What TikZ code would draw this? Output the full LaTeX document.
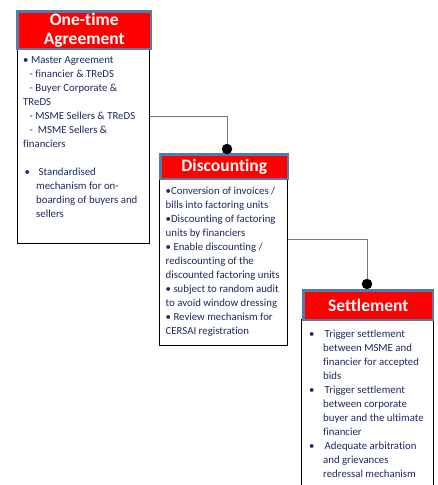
\documentclass[tikz,border=0pt]{standalone}
\usepackage{fontspec}
\setmainfont[Ligatures={NoCommon}]{Carlito}
\begin{document}
\begin{tikzpicture}[x=1pt,y=-1pt]
\definecolor{navy}{RGB}{30,40,100}
\definecolor{steel}{RGB}{84,124,170}
\definecolor{hdrred}{RGB}{255,0,0}
\definecolor{wire}{RGB}{120,120,120}
\tikzset{
  bodybox/.style={draw=black, line width=1.2pt, fill=white, anchor=north west,
                  inner sep=0pt, minimum width=#1},
  hdr/.style={draw=steel, line width=2.5pt, fill=hdrred, anchor=north west,
              inner sep=0pt, text=white, align=center,
              font=\fontsize{17.5}{19.5}\selectfont\bfseries},
  bodytext/.style={anchor=north west, inner sep=0pt, align=left, text=navy,
                   font=\fontsize{10.8}{14}\selectfont},
  conn/.style={draw=wire, line width=0.9pt},
  dot/.style={circle, fill=black, inner sep=0pt, minimum size=10.5pt}
}
\useasboundingbox (0,0) rectangle (438,485);

% body boxes
\node[bodybox=132pt, minimum height=195pt] (b1) at (17,48) {};
\node[bodybox=128pt, minimum height=167pt] (b2) at (159,178) {};
\node[bodybox=132pt, minimum height=190pt] (b3) at (301,319) {};

% headers
\node[hdr, minimum width=133.5pt, minimum height=37.5pt] (h1) at (16.25,10.25) {One-time\\Agreement};
\node[hdr, minimum width=127.5pt, minimum height=24.5pt] (h2) at (159.25,153.25) {Discounting};
\node[hdr, minimum width=129.5pt, minimum height=29.5pt] (h3) at (302.25,289.25) {Settlement};

% body texts
\node[bodytext] (t1) at (23,56.5) {%
• Master Agreement\\
\hspace*{6.5pt}- financier \& TReDS\\
\hspace*{6.5pt}- Buyer Corporate \&\\
TReDS\\
\hspace*{6.5pt}- MSME Sellers \& TReDS\\
\hspace*{6.5pt}-\hspace*{2.5pt} MSME Sellers \&\\
financiers\\[14pt]
\makebox[13pt][l]{\hspace*{1.5pt}•}\hspace*{2.5pt}Standardised\\
\hspace*{13pt}mechanism for on-\\
\hspace*{13pt}boarding of buyers and\\
\hspace*{13pt}sellers};

\node[bodytext] (t2) at (165.5,186.5) {%
•Conversion of invoices /\\
bills into factoring units\\
•Discounting of factoring\\
units by financiers\\
• Enable discounting /\\
rediscounting of the\\
discounted factoring units\\
• subject to random audit\\
to avoid window dressing\\
• Review mechanism for\\
CERSAI registration};

\node[bodytext] (t3) at (309,329.5) {%
\makebox[14pt][l]{•}\hspace*{1.5pt}Trigger settlement\\
\hspace*{14pt}between MSME and\\
\hspace*{14pt}financier for accepted\\
\hspace*{14pt}bids\\
\makebox[14pt][l]{•}\hspace*{1.5pt}Trigger settlement\\
\hspace*{14pt}between corporate\\
\hspace*{14pt}buyer and the ultimate\\
\hspace*{14pt}financier\\
\makebox[14pt][l]{•}\hspace*{1.5pt}Adequate arbitration\\
\hspace*{14pt}and grievances\\
\hspace*{14pt}redressal mechanism};

% connectors with end dots
\coordinate (k1) at (227,116.5);
\coordinate (k2) at (367,239);
\node[dot] (d1) at (227,149) {};
\node[dot] (d2) at (367,284) {};
\draw[conn] (b1.east |- k1) -- (k1) -- (d1);
\draw[conn] (b2.east |- k2) -- (k2) -- (d2);
\end{tikzpicture}
\end{document}
